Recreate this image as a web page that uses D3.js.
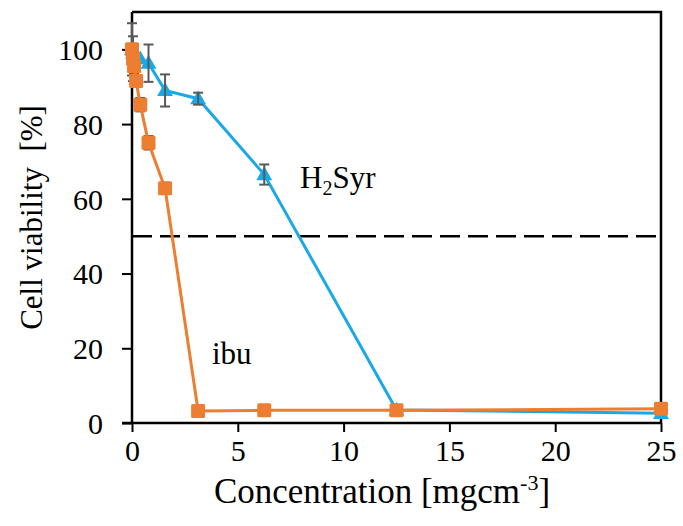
<!DOCTYPE html>
<html>
<head>
<meta charset="utf-8">
<script src="https://cdn.jsdelivr.net/npm/d3@7"></script>
<style>
  html, body { margin: 0; padding: 0; background: #fff; }
  svg text { font-family: "Liberation Serif", "Times New Roman", serif; fill: #000; }
</style>
</head>
<body>
<svg id="chart" width="683" height="526"></svg>
<script>
// Concentration [mg cm^-3]
const concentrations = [0, 0.049, 0.098, 0.195, 0.39, 0.78, 1.5625, 3.125, 6.25, 12.5, 25];

// H2Syr viability [%] and standard deviation
const h2syrValues = [100, 99, 98.5, 98, 97.5, 96.3, 89, 86.8, 66.5, 3.5, 2.6];
const h2syrErrors = [0, 0, 0, 0, 0, 5, 4.3, 1.6, 2.7, 0, 0];

// ibu viability [%] and standard deviation
const ibuValues = [100, 97.5, 95.5, 91.5, 85.2, 75, 62.8, 3.2, 3.4, 3.4, 3.8];
const ibuErrors = [7, 6, 2, 1.5, 1.8, 1.8, 1.5, 0, 0, 0, 0];

const xTicks = [0, 5, 10, 15, 20, 25];
const yTicks = [0, 20, 40, 60, 80, 100];
const thresholdValue = 50;

const svg = d3.select("#chart");
const margin = { left: 132, right: 22, top: 12, bottom: 103 };
const W = 683, H = 526;
const serif = "'Liberation Serif', 'Times New Roman', serif";

const x = d3.scaleLinear().domain([0, 25]).range([margin.left, W - margin.right]);
const y = d3.scaleLinear().domain([0, 110]).range([H - margin.bottom, margin.top]);

const blue = "#1aa9e6";
const orange = "#ed7d31";
const errColor = "#595959";

// plot frame (top and right edges)
svg.append("path")
  .attr("d", `M${x(0)},${y(110)}H${x(25)}V${y(0)}`)
  .attr("fill", "none").attr("stroke", "#000").attr("stroke-width", 2.5);

// axes
const xAxis = svg.append("g")
  .attr("transform", `translate(0,${y(0)})`)
  .call(d3.axisBottom(x).tickValues(xTicks).tickSize(9).tickPadding(6));
const yAxis = svg.append("g")
  .attr("transform", `translate(${x(0)},0)`)
  .call(d3.axisLeft(y).tickValues(yTicks).tickSize(10).tickPadding(19));

[xAxis, yAxis].forEach(g => {
  g.attr("font-family", serif).attr("font-size", 30);
  g.select(".domain").attr("stroke", "#000").attr("stroke-width", 2.5);
  g.selectAll(".tick line").attr("stroke", "#000").attr("stroke-width", 2);
  g.selectAll(".tick text")
    .style("font-family", serif)
    .style("font-size", "30px")
    .attr("fill", "#000");
});
yAxis.select(".domain").attr("d", `M0,${y(0)}V${y(110)}`);
xAxis.select(".domain").attr("d", `M${x(0) - 10},0H${x(25)}`);
yAxis.selectAll(".tick text").attr("dy", "0.34em");
xAxis.selectAll(".tick text").attr("dy", "0.75em");

// 50 % threshold
svg.append("line")
  .attr("x1", x(0)).attr("x2", x(25))
  .attr("y1", y(thresholdValue)).attr("y2", y(thresholdValue))
  .attr("stroke", "#000").attr("stroke-width", 2.5)
  .attr("stroke-dasharray", "20,8");

const line = d3.line().x(d => x(d[0])).y(d => y(d[1]));

function series(values, errors) {
  return concentrations.map((c, i) => [c, values[i], errors[i]]);
}
const h2syr = series(h2syrValues, h2syrErrors);
const ibu = series(ibuValues, ibuErrors);

function errorBars(data) {
  const g = svg.append("g").attr("stroke", errColor).attr("stroke-width", 2);
  data.filter(d => d[2] > 0).forEach(d => {
    const cx = x(d[0]), top = y(d[1] + d[2]), bot = y(d[1] - d[2]);
    g.append("line").attr("x1", cx).attr("x2", cx).attr("y1", top).attr("y2", bot);
    g.append("line").attr("x1", cx - 5).attr("x2", cx + 5).attr("y1", top).attr("y2", top);
    g.append("line").attr("x1", cx - 5).attr("x2", cx + 5).attr("y1", bot).attr("y2", bot);
  });
}

// H2Syr: line, triangles, error bars
svg.append("path").datum(h2syr).attr("d", line)
  .attr("fill", "none").attr("stroke", blue).attr("stroke-width", 3);
svg.append("g").selectAll("path").data(h2syr).join("path")
  .attr("d", d3.symbol(d3.symbolTriangle, 110))
  .attr("transform", d => `translate(${x(d[0])},${y(d[1]) + 1})`)
  .attr("fill", blue);
errorBars(h2syr);

// ibu: error bars, line, squares
errorBars(ibu);
svg.append("path").datum(ibu).attr("d", line)
  .attr("fill", "none").attr("stroke", orange).attr("stroke-width", 3);
svg.append("g").selectAll("rect").data(ibu).join("rect")
  .attr("x", d => x(d[0]) - 7).attr("y", d => y(d[1]) - 7)
  .attr("width", 14).attr("height", 14).attr("rx", 1.5)
  .attr("fill", orange);

// series labels
const h2Label = svg.append("text").attr("x", 300).attr("y", 188)
  .style("font-family", serif).style("font-size", "31px");
h2Label.append("tspan").text("H");
h2Label.append("tspan").text("2").attr("dy", 7).style("font-size", "20px");
h2Label.append("tspan").text("Syr").attr("dy", -7);

svg.append("text").attr("x", 212).attr("y", 364)
  .style("font-family", serif).style("font-size", "31px").text("ibu");

// axis titles
const xTitle = svg.append("text")
  .attr("x", 382).attr("y", 503)
  .attr("text-anchor", "middle")
  .style("font-family", serif).style("font-size", "35px");
xTitle.append("tspan").text("Concentration [mgcm");
xTitle.append("tspan").text("-3").attr("dy", -13).style("font-size", "22px");
xTitle.append("tspan").text("]").attr("dy", 13);

svg.append("text")
  .attr("transform", `translate(42,${(y(0) + y(110)) / 2}) rotate(-90)`)
  .attr("text-anchor", "middle")
  .style("font-family", serif).style("font-size", "31px")
  .style("white-space", "pre")
  .text("Cell viability  [%]");
</script>
</body>
</html>
